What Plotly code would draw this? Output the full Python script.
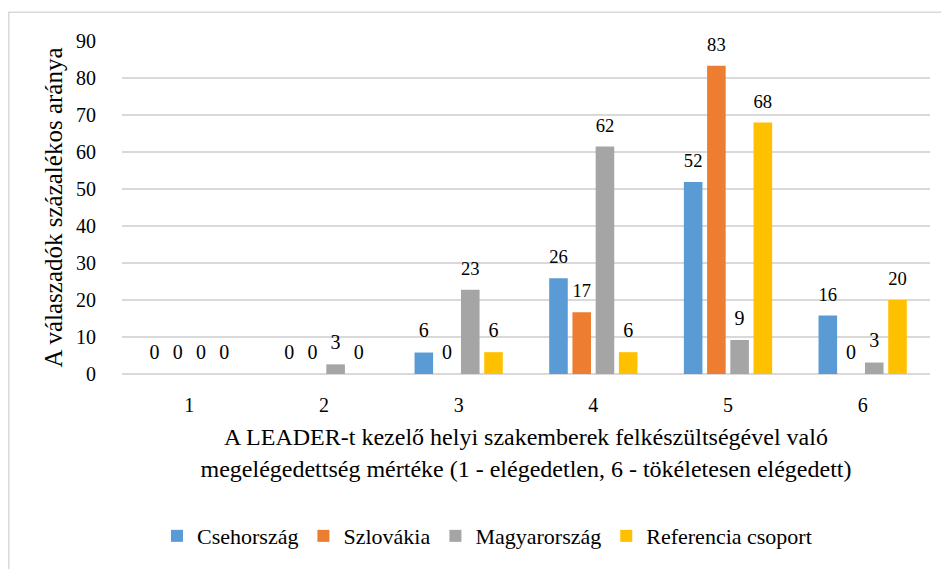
import plotly.graph_objects as go

categories = ["1", "2", "3", "4", "5", "6"]
cseh = [0, 0, 5.8, 25.9, 51.9, 15.8]
szlov = [0, 0, 0, 16.7, 83.3, 0]
magyar = [0, 2.6, 22.8, 61.5, 9.2, 3.1]
referencia = [0, 0, 5.9, 5.9, 68.0, 20.0]
series_names = ["Csehország", "Szlovákia", "Magyarország", "Referencia csoport"]
colors = ["#5B9BD5", "#ED7D31", "#A5A5A5", "#FFC000"]
y_ticks = [0, 10, 20, 30, 40, 50, 60, 70, 80, 90]
y_range = [0, 90]
label_lift = 2.2  # extra gap (in axis units) between bar top and its value label

FONT = "'Liberation Serif', 'DejaVu Serif', 'Times New Roman', serif"

fig = go.Figure()
all_series = [cseh, szlov, magyar, referencia]
for name, vals, col in zip(series_names, all_series, colors):
    fig.add_trace(go.Bar(
        x=categories, y=vals, name=name,
        marker=dict(color=col, line=dict(width=0)),
        xaxis="x", yaxis="y",
    ))
# value labels: same bars on an overlaid, slightly shifted axis pair (transparent)
for name, vals in zip(series_names, all_series):
    fig.add_trace(go.Bar(
        x=categories, y=vals, name=name, showlegend=False, hoverinfo="skip",
        marker=dict(color="rgba(0,0,0,0)", line=dict(width=0)),
        texttemplate="%{y:.0f}", textposition="outside",
        textfont=dict(family=FONT, size=20, color="#000000"),
        cliponaxis=False, xaxis="x2", yaxis="y2",
    ))

OFF = 8  # page body margin
W, H = 949 - OFF, 569 - OFF
L, R, T, B = 122 - OFF, 19, 41 - OFF, 191
pw = W - L - R
ph = H - T - B

def px_x(px):
    return (px - OFF - L) / pw

def px_y(py):
    return (H - B - (py - OFF)) / ph

fig.update_layout(
    width=W, height=H,
    margin=dict(l=L, r=R, t=T, b=B),
    paper_bgcolor="white", plot_bgcolor="white",
    barmode="group", bargap=0.31, bargroupgap=0.2,
    font=dict(family=FONT, color="#000000"),
    showlegend=True,
    legend=dict(orientation="h", x=px_x(487), xanchor="center", y=px_y(542), yanchor="middle",
                font=dict(family=FONT, size=22, color="#000000"), traceorder="normal"),
    xaxis=dict(
        type="category", showgrid=False, zeroline=False, showline=False,
        ticks="outside", ticklen=13, tickcolor="rgba(0,0,0,0)",
        tickfont=dict(family=FONT, size=20, color="#000000"),
        title=dict(text="A LEADER-t kezelő helyi szakemberek felkészültségével való<br>megelégedettség mértéke (1 - elégedetlen, 6 - tökéletesen elégedett)",
                   font=dict(family=FONT, size=24, color="#000000"), standoff=13),
    ),
    yaxis=dict(
        range=y_range, tickvals=y_ticks, showgrid=True, gridcolor="#D9D9D9", gridwidth=1.5,
        zeroline=True, zerolinecolor="#D9D9D9", zerolinewidth=1.5, showline=False,
        ticks="outside", ticklen=21, tickcolor="rgba(0,0,0,0)",
        tickfont=dict(family=FONT, size=20, color="#000000"),
        title=dict(text="A válaszadók százalékos aránya", font=dict(family=FONT, size=25, color="#000000"), standoff=6),
    ),
    xaxis2=dict(type="category", overlaying="x", visible=False, matches=None),
    yaxis2=dict(overlaying="y", visible=False,
                range=[y_range[0] - label_lift, y_range[1] - label_lift]),
    shapes=[dict(type="rect", xref="paper", yref="paper",
                 x0=px_x(8.8), x1=px_x(1000), y0=px_y(620), y1=px_y(12),
                 line=dict(color="#D9D9D9", width=1.5), fillcolor="rgba(0,0,0,0)", layer="below")],
)

fig.write_html("out.html")
